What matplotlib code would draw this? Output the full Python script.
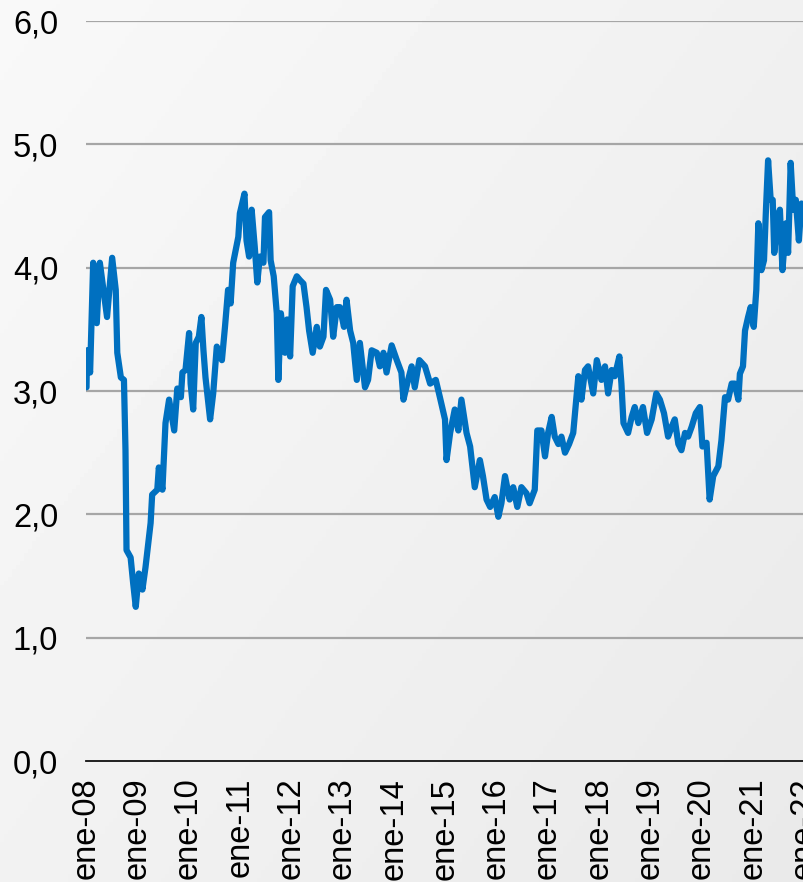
#!/usr/bin/env python3
import numpy as np
import matplotlib
matplotlib.use("Agg")
import matplotlib.pyplot as plt

# series: decimal year, value
years = [
    2008.01, 2008.02, 2008.08, 2008.14, 2008.21, 2008.27, 2008.41, 2008.51,
    2008.58, 2008.61, 2008.68, 2008.74, 2008.77, 2008.79, 2008.87, 2008.92,
    2008.97, 2009.03, 2009.10, 2009.16, 2009.26, 2009.29, 2009.39, 2009.42,
    2009.49, 2009.55, 2009.62, 2009.72, 2009.78, 2009.85, 2009.88, 2009.94,
    2010.01, 2010.04, 2010.09, 2010.14, 2010.20, 2010.25, 2010.29, 2010.33,
    2010.42, 2010.48, 2010.55, 2010.65, 2010.71, 2010.77, 2010.82, 2010.87,
    2010.97, 2011.00, 2011.09, 2011.13, 2011.18, 2011.23, 2011.29, 2011.34,
    2011.39, 2011.46, 2011.49, 2011.57, 2011.60, 2011.66, 2011.72, 2011.75,
    2011.80, 2011.88, 2011.92, 2011.98, 2012.03, 2012.11, 2012.17, 2012.24,
    2012.30, 2012.35, 2012.42, 2012.50, 2012.56, 2012.63, 2012.68, 2012.76,
    2012.82, 2012.89, 2012.95, 2013.03, 2013.08, 2013.15, 2013.21, 2013.28,
    2013.34, 2013.44, 2013.50, 2013.57, 2013.67, 2013.73, 2013.80, 2013.86,
    2013.96, 2014.06, 2014.15, 2014.19, 2014.28, 2014.35, 2014.41, 2014.50,
    2014.61, 2014.71, 2014.82, 2014.90, 2015.00, 2015.03, 2015.10, 2015.19,
    2015.26, 2015.32, 2015.42, 2015.49, 2015.58, 2015.68, 2015.74, 2015.81,
    2015.88, 2015.97, 2016.04, 2016.10, 2016.17, 2016.26, 2016.33, 2016.41,
    2016.49, 2016.59, 2016.65, 2016.75, 2016.80, 2016.88, 2016.95, 2017.01,
    2017.08, 2017.14, 2017.21, 2017.27, 2017.34, 2017.42, 2017.50, 2017.60,
    2017.66, 2017.73, 2017.79, 2017.89, 2017.96, 2018.05, 2018.12, 2018.18,
    2018.25, 2018.31, 2018.40, 2018.44, 2018.48, 2018.57, 2018.64, 2018.70,
    2018.77, 2018.86, 2018.94, 2019.03, 2019.12, 2019.19, 2019.27, 2019.35,
    2019.42, 2019.48, 2019.55, 2019.61, 2019.68, 2019.74, 2019.81, 2019.89,
    2019.97, 2020.02, 2020.10, 2020.16, 2020.23, 2020.33, 2020.39, 2020.46,
    2020.52, 2020.59, 2020.65, 2020.72, 2020.75, 2020.81, 2020.85, 2020.91,
    2020.96, 2021.02, 2021.07, 2021.11, 2021.17, 2021.22, 2021.26, 2021.30,
    2021.35, 2021.39, 2021.42, 2021.48, 2021.53, 2021.58, 2021.65, 2021.69,
    2021.74, 2021.79, 2021.84, 2021.90, 2021.95, 2022.00,
]
values = [
    3.03, 3.33, 3.15, 4.04, 3.55, 4.04, 3.60, 4.08,
    3.82, 3.31, 3.11, 3.09, 2.52, 1.71, 1.65, 1.44,
    1.25, 1.52, 1.39, 1.57, 1.93, 2.16, 2.20, 2.38,
    2.20, 2.74, 2.93, 2.68, 3.02, 2.95, 3.15, 3.17,
    3.47, 3.06, 2.85, 3.39, 3.44, 3.60, 3.33, 3.11,
    2.77, 2.98, 3.36, 3.25, 3.52, 3.82, 3.71, 4.04,
    4.25, 4.44, 4.60, 4.22, 4.09, 4.47, 4.17, 3.88,
    4.09, 4.04, 4.41, 4.45, 4.06, 3.93, 3.63, 3.09,
    3.63, 3.31, 3.58, 3.28, 3.85, 3.93, 3.90, 3.87,
    3.68, 3.49, 3.31, 3.52, 3.36, 3.44, 3.82, 3.74,
    3.44, 3.68, 3.68, 3.52, 3.74, 3.49, 3.39, 3.09,
    3.39, 3.03, 3.09, 3.33, 3.31, 3.20, 3.31, 3.15,
    3.37, 3.25, 3.15, 2.93, 3.09, 3.20, 3.03, 3.25,
    3.20, 3.06, 3.09, 2.95, 2.77, 2.44, 2.66, 2.85,
    2.68, 2.93, 2.66, 2.55, 2.22, 2.44, 2.31, 2.12,
    2.06, 2.14, 1.98, 2.09, 2.31, 2.12, 2.22, 2.06,
    2.22, 2.17, 2.09, 2.20, 2.68, 2.68, 2.47, 2.66,
    2.79, 2.63, 2.57, 2.63, 2.50, 2.57, 2.66, 3.12,
    2.93, 3.17, 3.20, 2.98, 3.25, 3.09, 3.20, 2.98,
    3.17, 3.12, 3.28, 3.06, 2.74, 2.66, 2.79, 2.87,
    2.74, 2.87, 2.66, 2.77, 2.98, 2.93, 2.82, 2.63,
    2.71, 2.77, 2.57, 2.52, 2.66, 2.63, 2.71, 2.82,
    2.87, 2.55, 2.58, 2.12, 2.31, 2.39, 2.60, 2.95,
    2.93, 3.06, 3.06, 2.93, 3.14, 3.20, 3.49, 3.60,
    3.68, 3.52, 3.82, 4.36, 3.98, 4.06, 4.49, 4.87,
    4.55, 4.55, 4.12, 4.39, 4.47, 3.98, 4.36, 4.12,
    4.85, 4.47, 4.55, 4.22, 4.52, 4.41,
]
tick_years = list(range(2008, 2023))
tick_labels = [f"ene-{y % 100:02d}" for y in tick_years]
y_ticks = [0, 1, 2, 3, 4, 5, 6]

W, H = 804, 882
fig = plt.figure(figsize=(W / 100, H / 100), dpi=100)

# soft grey backdrop
bg = fig.add_axes([0, 0, 1, 1], zorder=-10)
gx, gy = np.meshgrid(np.linspace(0, 1, 200), np.linspace(0, 1, 220))
shade = 0.975 - 0.06 * (0.55 * gx + 0.45 * gy)
bg.imshow(shade, cmap="gray", vmin=0, vmax=1, aspect="auto",
          extent=[0, 1, 0, 1], origin="upper")
bg.axis("off")

ax = fig.add_axes([86 / W, 1 - 761 / H, 1 - 86 / W, (761 - 21) / H])
ax.set_facecolor("none")
ax.plot(years, values, color="#0070C0", lw=4.5,
        solid_joinstyle="round", solid_capstyle="round", zorder=3)

ax.set_xlim(2008, 2022)
ax.set_ylim(0, 6)
ax.set_yticks(y_ticks)
ax.set_yticklabels([f"{v:.1f}".replace(".", ",") for v in y_ticks])
ax.set_xticks(tick_years)
ax.set_xticklabels(tick_labels, rotation=90, va="top", ha="center")

for v in y_ticks[1:]:
    ax.axhline(v, color="#a6a6a6", lw=1.6, zorder=1)
for s in ["top", "right", "left"]:
    ax.spines[s].set_visible(False)
ax.spines["bottom"].set_color("#111111")
ax.spines["bottom"].set_linewidth(1.3)
ax.tick_params(axis="both", length=0, labelsize=23.5, colors="black",
               labelfontfamily="Liberation Sans")
ax.tick_params(axis="y", pad=20)
ax.tick_params(axis="x", pad=12)

fig.savefig("out.png", dpi=100)
